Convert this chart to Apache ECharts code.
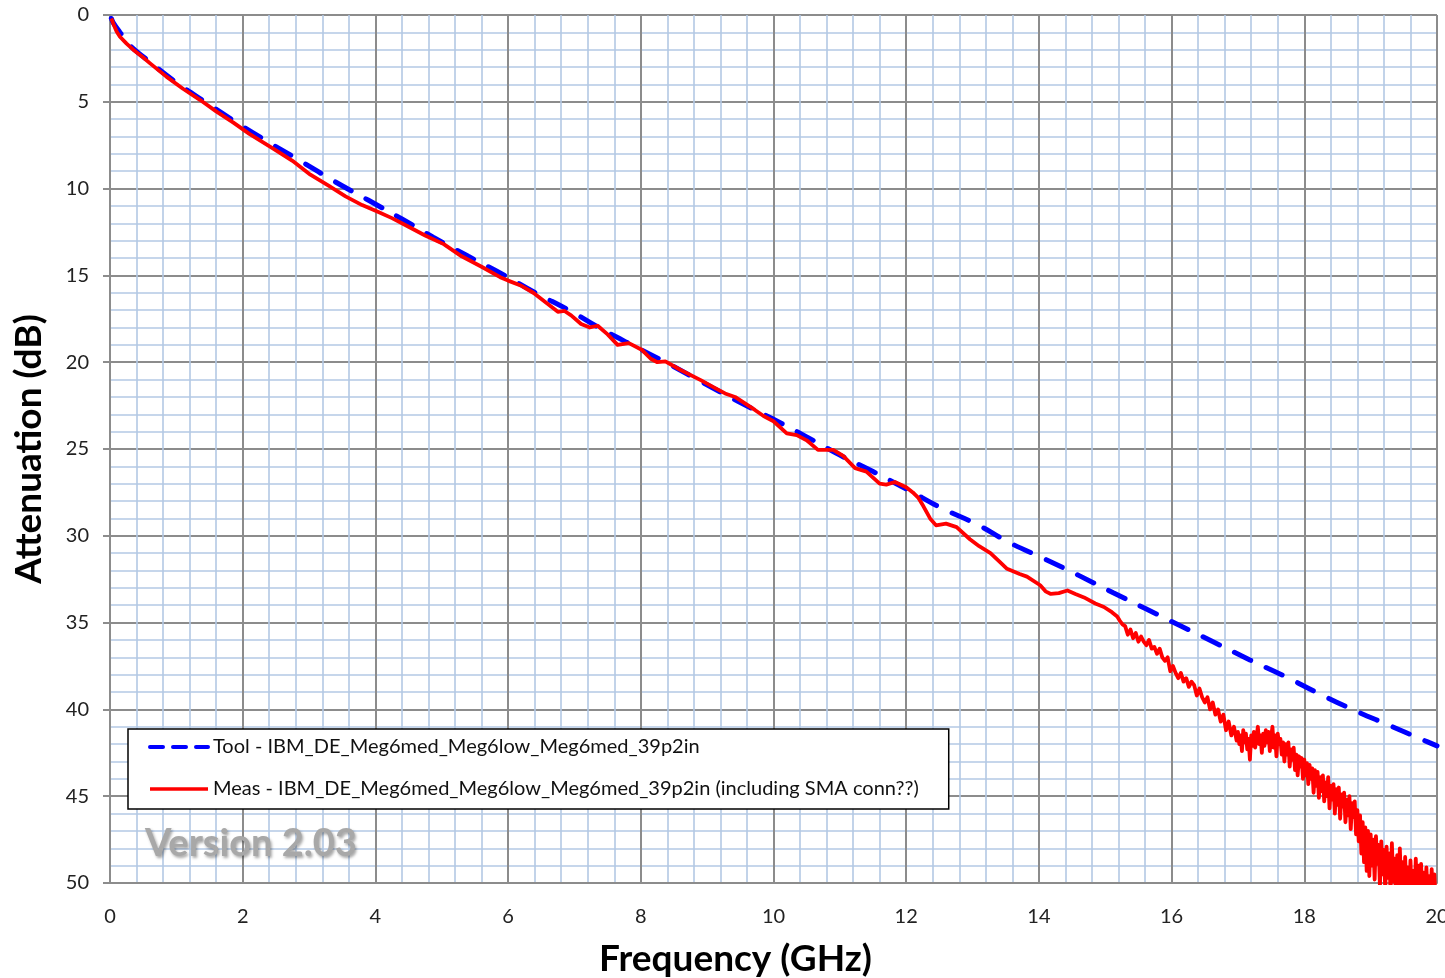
<!DOCTYPE html>
<html>
<head>
<meta charset="utf-8">
<script src="https://cdn.jsdelivr.net/npm/echarts@6/dist/echarts.min.js"></script>
<style>
html,body{margin:0;padding:0;background:#fff;overflow:hidden;}
#chart{width:1445px;height:978px;}
</style>
</head>
<body>
<div id="chart"></div>
<script>
// ---- data (frequency GHz, attenuation dB) ----
const toolName = 'Tool - IBM_DE_Meg6med_Meg6low_Meg6med_39p2in';
const measName = 'Meas - IBM_DE_Meg6med_Meg6low_Meg6med_39p2in (including SMA conn??)';
const xAxisName = 'Frequency (GHz)';
const yAxisName = 'Attenuation (dB)';
const versionText = 'Version 2.03';

const toolData = [
  [0.02,0.2],[0.05,0.45],[0.15,1.0],[0.3,1.75],[0.5,2.4],[0.95,3.75],[1.43,5.0],[1.91,6.2],
  [2.40,7.35],[2.89,8.45],[3.39,9.6],[3.89,10.66],[4.40,11.75],[4.87,12.8],[5.40,13.9],
  [5.90,14.9],[6.41,16.0],[6.93,17.03],[7.41,18.1],[7.94,19.15],[8.42,20.1],[8.94,21.18],
  [9.47,22.27],[9.97,23.23],[10.5,24.3],[11.0,25.35],[11.5,26.3],[12.03,27.36],[12.53,28.4],
  [13.07,29.35],[13.56,30.4],[14.07,31.3],[14.6,32.28],[15.12,33.28],[15.62,34.22],
  [16.14,35.2],[16.64,36.13],[17.18,37.15],[17.71,38.1],[18.21,39.07],[18.74,40.03],
  [19.27,40.9],[19.79,41.76],[20.0,42.1]
];

const measData = [
  [0.02,0.2],[0.05,0.5],[0.1,0.95],[0.15,1.25],[0.25,1.65],[0.35,2.0],[0.5,2.45],[0.6,2.77],
  [0.85,3.55],[1.1,4.25],[1.36,4.9],[1.6,5.55],[1.86,6.2],[2.1,6.85],[2.46,7.7],[2.75,8.4],
  [3.02,9.2],[3.3,9.85],[3.55,10.45],[3.8,10.95],[4.02,11.3],[4.25,11.7],[4.5,12.2],[4.75,12.7],
  [5.03,13.2],[5.3,13.9],[5.6,14.5],[5.88,15.1],[6.0,15.3],[6.2,15.6],[6.38,16.0],[6.55,16.5],
  [6.75,17.1],[6.85,17.05],[6.95,17.3],[7.1,17.8],[7.23,18.0],[7.35,17.9],[7.5,18.4],[7.65,19.0],
  [7.82,18.9],[8.02,19.3],[8.15,19.8],[8.25,20.0],[8.37,19.95],[8.6,20.45],[8.91,21.05],[9.1,21.45],
  [9.27,21.8],[9.42,22.0],[9.72,22.75],[9.85,23.1],[10.0,23.4],[10.2,24.1],[10.35,24.2],[10.5,24.5],
  [10.67,25.05],[10.8,25.05],[10.9,25.05],[11.05,25.4],[11.23,26.1],[11.4,26.3],[11.6,27.0],[11.7,27.05],
  [11.83,26.9],[12.0,27.2],[12.1,27.5],[12.18,27.8],[12.26,28.3],[12.36,29.0],[12.45,29.4],[12.6,29.3],
  [12.76,29.5],[12.96,30.2],[13.1,30.6],[13.27,31.0],[13.41,31.5],[13.52,31.9],[13.71,32.2],[13.82,32.35],
  [14.02,32.85],[14.1,33.2],[14.18,33.35],[14.3,33.3],[14.43,33.15],[14.55,33.35],[14.68,33.55],[14.85,33.9],
  [14.98,34.1],[15.1,34.4],[15.18,34.65],
  [15.22,34.9],[15.26,35.1],[15.30,35.2],[15.34,35.7],[15.38,35.4],[15.42,35.9],[15.46,35.6],[15.50,36.1],
  [15.54,35.8],[15.58,36.1],[15.62,36.3],[15.66,36.0],[15.70,36.5],[15.74,36.4],[15.78,36.8],[15.82,36.5],
  [15.86,37.0],[15.90,37.2],[15.94,37.0],[15.98,37.8],[16.02,37.5],[16.06,37.9],[16.10,38.2],[16.14,37.9],
  [16.18,38.4],[16.22,38.2],[16.26,38.7],[16.30,38.4],[16.34,38.6],[16.38,39.2],[16.42,38.8],[16.46,39.3],
  [16.50,39.6],[16.54,39.3],[16.58,40.0],[16.62,39.6],[16.66,40.3],[16.70,40.0],[16.74,40.7],[16.78,40.3],
  [16.82,41.2],[16.86,40.7],[16.90,41.5],[16.94,41.0],[16.98,41.8],
  [17.00,41.3],[17.02,42.0],[17.04,41.5],[17.06,42.4],[17.08,41.2],[17.10,41.9],[17.12,41.4],[17.14,42.3],
  [17.16,41.7],[17.18,42.9],[17.20,41.5],[17.22,42.1],[17.24,41.3],[17.26,42.2],[17.28,41.6],[17.30,41.0],
  [17.32,42.0],[17.34,41.5],[17.36,42.5],[17.38,41.4],[17.40,42.1],[17.42,41.2],[17.44,41.9],[17.46,41.3],
  [17.48,42.4],[17.50,41.6],[17.52,41.0],[17.54,42.2],[17.56,41.5],[17.58,42.7],[17.60,41.4],[17.62,42.0],
  [17.64,41.7],[17.66,42.6],[17.68,41.9],[17.70,43.0],[17.72,42.0],[17.74,42.6],[17.76,41.9],[17.78,43.3],
  [17.80,42.3],[17.82,42.9],[17.84,42.2],[17.86,43.5],[17.88,42.6],[17.90,43.8],[17.92,42.7],[17.94,43.3],
  [17.96,42.8],[17.98,44.0],[18.00,42.9],[18.02,43.8],[18.04,43.1],[18.06,44.3],[18.08,43.2],[18.10,44.0],
  [18.12,43.4],[18.14,44.8],[18.16,43.5],[18.18,44.4],[18.20,43.6],[18.22,45.1],[18.24,43.9],[18.26,44.7],
  [18.28,43.8],[18.30,45.3],[18.32,44.2],[18.34,45.0],[18.36,43.9],[18.38,45.7],[18.40,44.4],[18.42,45.2],
  [18.44,44.3],[18.46,46.0],[18.48,44.6],[18.50,45.5],[18.52,44.5],[18.54,46.3],[18.56,44.9],[18.58,45.6],
  [18.60,44.8],[18.62,46.5],[18.64,45.2],[18.66,46.1],[18.68,45.0],[18.70,46.9],[18.72,45.4],[18.74,46.2],
  [18.76,45.3],[18.78,47.2],[18.80,45.8],[18.82,47.6],[18.84,46.1],[18.86,48.3],[18.88,46.5],[18.90,48.8],
  [18.92,46.8],[18.94,49.3],[18.96,47.0],[18.98,49.6],[19.00,47.2],[19.02,49.0],[19.04,47.5],[19.06,49.8],
  [19.08,47.3],[19.10,48.9],[19.12,47.8],[19.14,50.2],[19.16,47.6],[19.18,49.5],[19.20,48.1],[19.22,50.4],
  [19.24,47.9],[19.26,49.7],[19.28,48.3],[19.30,50.6],[19.32,47.7],[19.34,49.9],[19.36,48.6],[19.38,50.8],
  [19.40,48.4],[19.42,51.0],[19.44,48.0],[19.46,50.3],[19.48,48.8],[19.50,51.0],[19.52,48.5],[19.54,50.6],
  [19.56,49.1],[19.58,51.0],[19.60,48.7],[19.62,50.8],[19.64,49.3],[19.66,51.0],[19.68,48.6],[19.70,50.5],
  [19.72,49.0],[19.74,51.0],[19.76,48.9],[19.78,50.9],[19.80,49.4],[19.82,51.0],[19.84,49.1],[19.86,50.7],
  [19.88,49.6],[19.90,51.0],[19.92,49.2],[19.94,51.0],[19.96,49.5],[19.98,51.0]
];

// ---- chart ----
const FONT = "Lato, 'Liberation Sans', Arial, sans-serif";
const majorColor = '#8c8c8c';
const minorColor = '#b3c8e4';

const chart = echarts.init(document.getElementById('chart'), null, {renderer: 'canvas', width: 1445, height: 978});
chart.setOption({
  animation: false,
  backgroundColor: '#ffffff',
  grid: {left: 110, top: 15, right: 8, bottom: 95, containLabel: false, outerBoundsMode: 'none'},
  legend: {
    show: true,
    orient: 'vertical',
    left: 128,
    top: 729,
    padding: [7, 30, 9, 20],
    itemGap: 20,
    itemWidth: 58,
    itemHeight: 14,
    backgroundColor: '#ffffff',
    borderColor: '#000000',
    borderWidth: 1.5,
    borderRadius: 0,
    itemStyle: {opacity: 0},
    textStyle: {fontFamily: FONT, fontSize: 20, color: '#111', lineHeight: 22},
    data: [
      {name: toolName, lineStyle: {type: [13, 10], width: 4, color: '#0000ff'}, itemStyle: {opacity: 0}},
      {name: measName, lineStyle: {type: 'solid', width: 3.5, color: '#ff0000'}, itemStyle: {opacity: 0}}
    ]
  },
  xAxis: {
    type: 'value', min: 0, max: 20, interval: 2,
    name: xAxisName, nameLocation: 'middle', nameGap: 58,
    nameTextStyle: {fontFamily: FONT, fontSize: 37, fontWeight: 'bold', color: '#000', padding: [0, 76, 0, 0]},
    axisLine: {show: true, onZero: false, lineStyle: {color: majorColor, width: 2}},
    axisTick: {show: false},
    axisLabel: {fontFamily: FONT, fontSize: 20, color: '#222', margin: 24},
    splitLine: {show: true, lineStyle: {color: majorColor, width: 2}},
    minorTick: {show: false, splitNumber: 5},
    minorSplitLine: {show: true, lineStyle: {color: minorColor, width: 1.6}}
  },
  yAxis: {
    type: 'value', min: 0, max: 50, interval: 5, inverse: true,
    name: yAxisName, nameLocation: 'middle', nameGap: 62, nameRotate: 90,
    nameTextStyle: {fontFamily: FONT, fontSize: 37, fontWeight: 'bold', color: '#000'},
    axisLine: {show: true, onZero: false, lineStyle: {color: majorColor, width: 2}},
    axisTick: {show: true, length: 7, lineStyle: {color: majorColor, width: 2}},
    axisLabel: {fontFamily: FONT, fontSize: 20, color: '#222', margin: 21},
    splitLine: {show: true, lineStyle: {color: majorColor, width: 2}},
    minorTick: {show: false, splitNumber: 5},
    minorSplitLine: {show: true, lineStyle: {color: minorColor, width: 1.6}}
  },
  graphic: [{
    type: 'text', left: 145, top: 825, z: 5,
    style: {
      text: versionText, font: "bold 38px " + FONT, fill: '#a8a8a8',
      textShadowColor: 'rgba(0,0,0,0.35)', textShadowBlur: 3, textShadowOffsetX: 1.5, textShadowOffsetY: 1.5
    }
  }],
  series: [
    {
      name: toolName, type: 'line', data: toolData, smooth: 0.4, symbol: 'none', z: 3,
      lineStyle: {color: '#0000ff', width: 5, type: [18, 17], cap: 'round'},
      itemStyle: {color: '#0000ff'}
    },
    {
      name: measName, type: 'line', data: measData, smooth: false, symbol: 'none', z: 4,
      lineStyle: {color: '#ff0000', width: 3.8, join: 'round'},
      itemStyle: {color: '#ff0000'}
    }
  ]
});
</script>
</body>
</html>
